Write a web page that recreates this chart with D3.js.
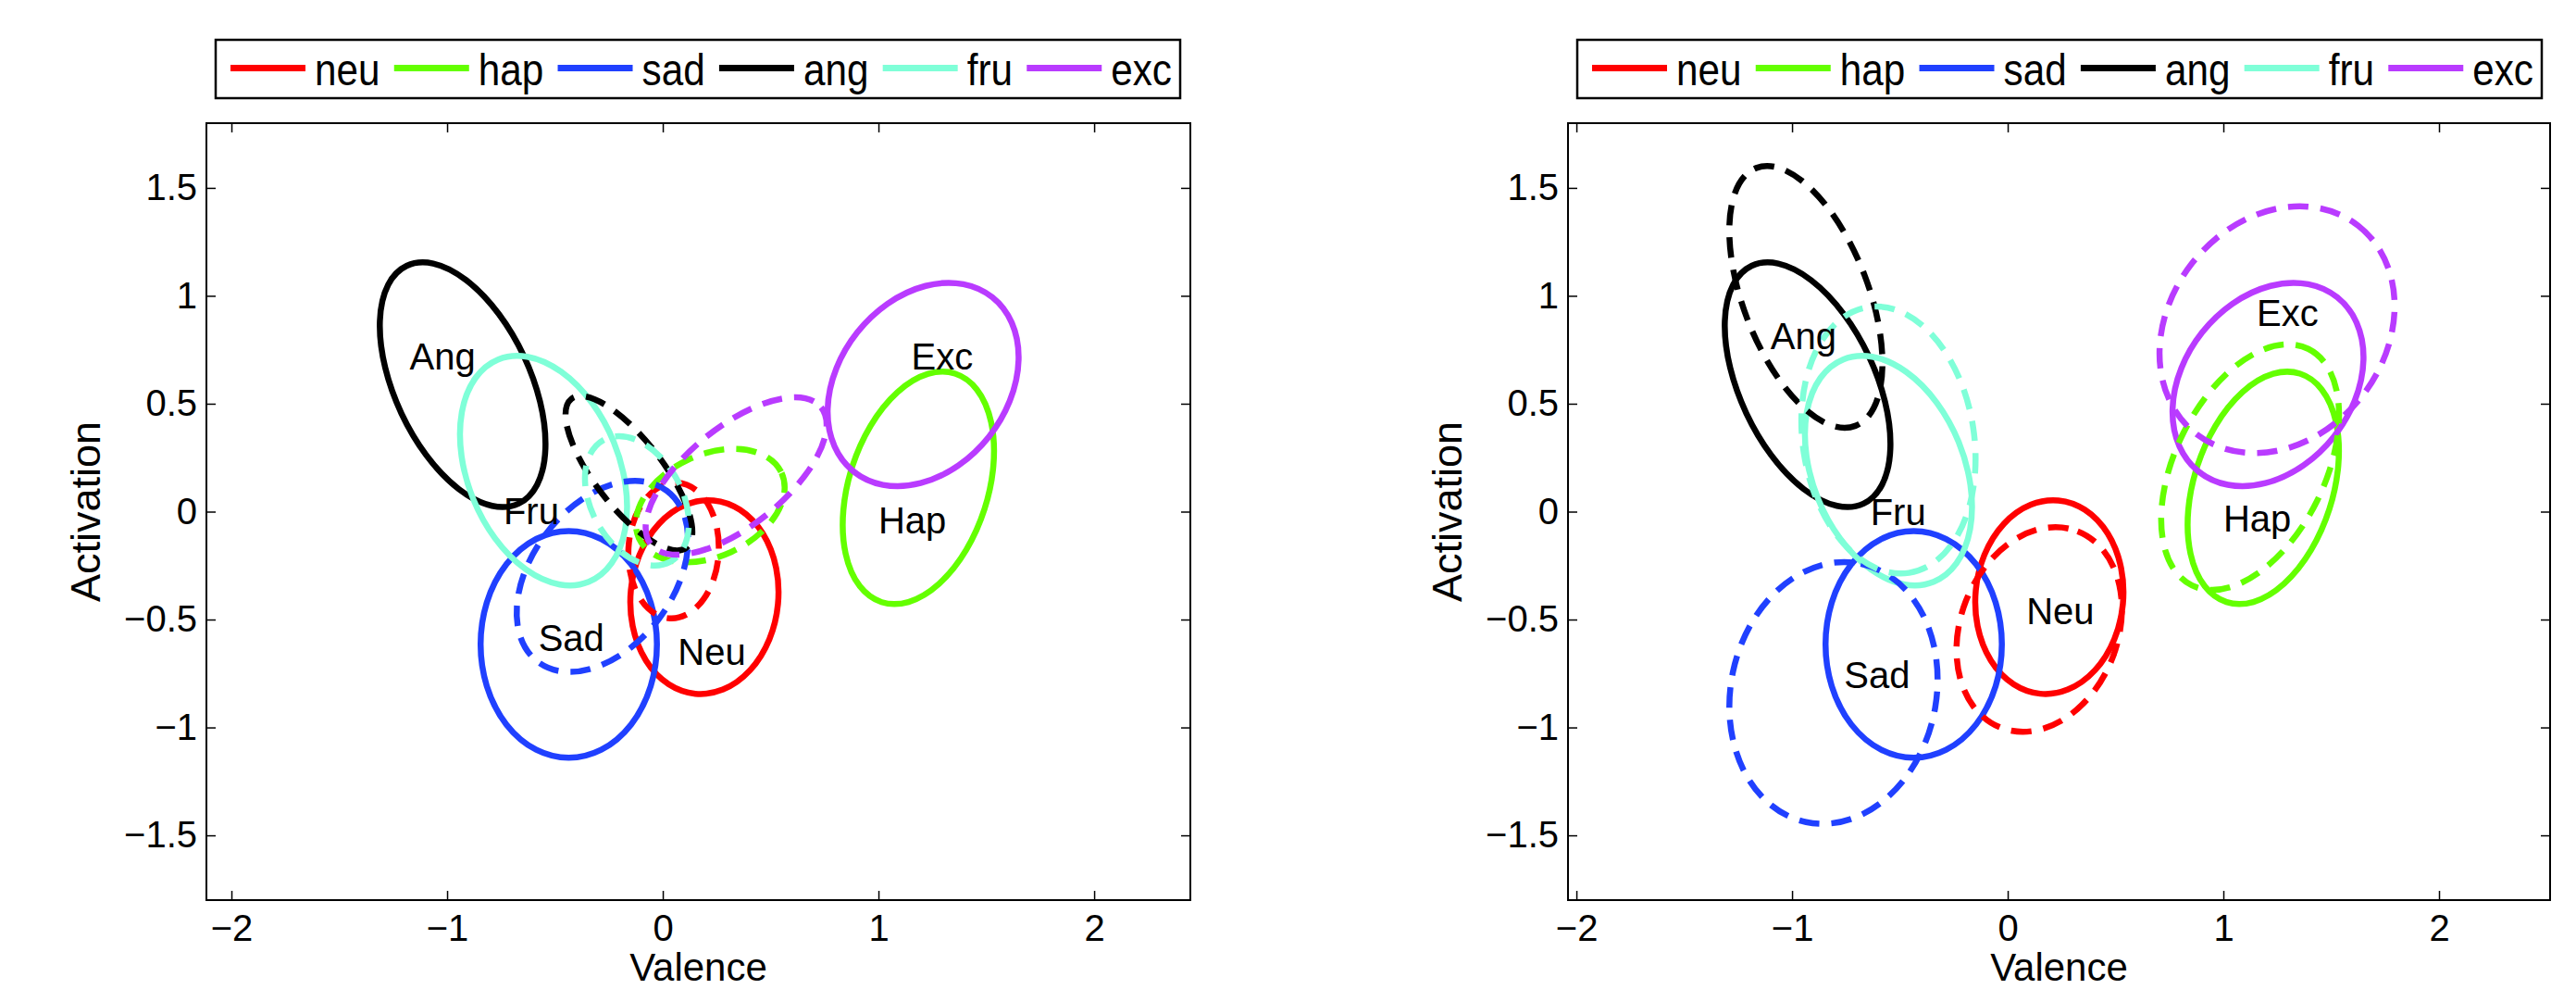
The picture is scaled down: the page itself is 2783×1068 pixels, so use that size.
<!DOCTYPE html>
<html>
<head>
<meta charset="utf-8">
<script src="https://cdn.jsdelivr.net/npm/d3@7"></script>
<style>
body { margin: 0; background: #fff; }
text { font-family: "Liberation Sans", Arial, Helvetica, sans-serif; fill: #000; }
</style>
</head>
<body>
<svg id="canvas"></svg>
<script>
// ---- data ----
let emotions = ["neu", "hap", "sad", "ang", "fru", "exc"];
let labels   = ["Neu", "Hap", "Sad", "Ang", "Fru", "Exc"];
let colours  = ["#ff0000", "#64ff00", "#2040ff", "#000000", "#7fffd8", "#b93bff"];

// ellipses as [cx, cy, sxx, sxy, syy]  (centre + spread of the contour)
let solidEll = [
  [0.193, -0.396, 0.118, 0.008, 0.2016],
  [1.185, 0.11, 0.123, 0.06, 0.29],
  [-0.436, -0.615, 0.167, 0.0, 0.276],
  [-0.928, 0.588, 0.1475, -0.105, 0.3215],
  [-0.553, 0.19, 0.150, -0.065, 0.283],
  [1.207, 0.589, 0.196, 0.056, 0.222]
];
let dashedLeft = [
  [0.05, -0.18, 0.044, 0.003, 0.099],
  [0.22, 0.028, 0.119, 0.029, 0.069],
  [-0.28, -0.30, 0.158, 0.067, 0.196],
  [-0.157, 0.178, 0.0864, -0.08, 0.128],
  [-0.12, 0.05, 0.058, -0.025, 0.09],
  [0.34, 0.165, 0.176, 0.10, 0.133]
];
let dashedRight = [
  [0.146, -0.546, 0.147, 0.036, 0.225],
  [1.124, 0.206, 0.17, 0.10, 0.324],
  [-0.808, -0.84, 0.233, 0.03, 0.368],
  [-0.936, 0.995, 0.126, -0.109, 0.368],
  [-0.553, 0.332, 0.163, -0.035, 0.383],
  [1.249, 0.843, 0.297, 0.06, 0.327]
];
let labelLeft  = [[0.227, -0.648], [1.157, -0.042], [-0.424, -0.587], [-1.021, 0.719], [-0.61, 0.004], [1.295, 0.719]];
let labelRight = [[0.244, -0.462], [1.157, -0.034], [-0.606, -0.758], [-0.947, 0.812], [-0.508, 0.0], [1.298, 0.922]];

let xTicks = [-2, -1, 0, 1, 2];
let yTicks = [-1.5, -1, -0.5, 0, 0.5, 1, 1.5];
let xLimLeft = [-2.116, 2.446], xLimRight = [-2.039, 2.515], yLim = [-1.8, 1.8];

// ---- layout ----
var width = 2783, height = 1068;
let svg = d3.select('#canvas').attr('width', width).attr('height', height);

let panels = [
  {left: 223, right: 1286, top: 133, bottom: 972, xLim: xLimLeft, dashed: dashedLeft, lab: labelLeft},
  {left: 1694, right: 2755, top: 133, bottom: 972, xLim: xLimRight, dashed: dashedRight, lab: labelRight}
];

let fmt = d3.format("");

function ellipseShape(e) {
  let [cx, cy, sxx, sxy, syy] = e;
  let m = (sxx + syy) / 2;
  let d = Math.sqrt(((sxx - syy) / 2) ** 2 + sxy * sxy);
  let theta = 0.5 * Math.atan2(2 * sxy, sxx - syy) * 180 / Math.PI;
  return {cx: cx, cy: cy, a: Math.sqrt(m + d), b: Math.sqrt(m - d), theta: theta};
}

function drawEllipses(g, x, y, list, dashed) {
  g.selectAll(null)
    .data(list.map((e, i) => ({s: ellipseShape(e), i: i})))
    .enter()
    .append('ellipse')
    .attr('cx', d => x(d.s.cx))
    .attr('cy', d => y(d.s.cy))
    .attr('rx', d => x(d.s.a) - x(0))
    .attr('ry', d => y(0) - y(d.s.b))
    .attr('transform', d => `rotate(${-d.s.theta},${x(d.s.cx)},${y(d.s.cy)})`)
    .attr('fill', 'none')
    .attr('stroke', d => colours[d.i])
    .attr('stroke-width', 6.5)
    .attr('stroke-dasharray', dashed ? '22,13' : null);
}

function styleAxis(a) {
  a.select('.domain').remove();
  a.selectAll('.tick line').attr('stroke', '#000').attr('stroke-width', 1.5);
  a.selectAll('text').style('font-size', '40px').attr('fill', '#000');
}

function drawLegend(p) {
  let boxW = 1042, boxH = 63;
  let lg = svg.append('g').attr('transform', `translate(${p.left + 10},43)`);
  lg.append('rect').attr('width', boxW).attr('height', boxH)
    .attr('fill', '#fff').attr('stroke', '#000').attr('stroke-width', 2.5);

  let texts = lg.selectAll('text.leg').data(emotions).enter().append('text')
    .attr('class', 'leg').style('font-size', '48px').text(d => d);
  let widths = [];
  texts.each(function() { widths.push(this.getComputedTextLength() * 0.88); });
  let lineLen = 81, pad = 10, startX = 16;
  let gap = (boxW - 9 - startX - emotions.length * (lineLen + pad) - d3.sum(widths)) / (emotions.length - 1);
  let pos = [], cur = startX;
  widths.forEach(w => { pos.push(cur); cur += lineLen + pad + w + gap; });

  lg.selectAll('line.leg').data(emotions).enter().append('line')
    .attr('x1', (d, i) => pos[i]).attr('x2', (d, i) => pos[i] + lineLen)
    .attr('y1', 30.5).attr('y2', 30.5)
    .attr('stroke', (d, i) => colours[i]).attr('stroke-width', 7);
  texts.attr('transform', (d, i) => `translate(${pos[i] + lineLen + pad},49) scale(0.88,1)`);
}

function drawPanel(p) {
  let x = d3.scaleLinear().domain(p.xLim).range([p.left, p.right]);
  let y = d3.scaleLinear().domain(yLim).range([p.bottom, p.top]);
  let g = svg.append('g');

  g.append('g').attr('transform', `translate(0,${p.bottom})`)
    .call(d3.axisBottom(x).tickValues(xTicks).tickSize(-10).tickSizeOuter(0).tickPadding(16).tickFormat(fmt))
    .call(styleAxis);
  g.append('g').attr('transform', `translate(0,${p.top})`)
    .call(d3.axisTop(x).tickValues(xTicks).tickSize(-10).tickSizeOuter(0).tickFormat(() => ''))
    .call(styleAxis);
  g.append('g').attr('transform', `translate(${p.left},0)`)
    .call(d3.axisLeft(y).tickValues(yTicks).tickSize(-10).tickSizeOuter(0).tickPadding(10).tickFormat(fmt))
    .call(styleAxis);
  g.append('g').attr('transform', `translate(${p.right},0)`)
    .call(d3.axisRight(y).tickValues(yTicks).tickSize(-10).tickSizeOuter(0).tickFormat(() => ''))
    .call(styleAxis);

  g.append('rect')
    .attr('x', p.left).attr('y', p.top)
    .attr('width', p.right - p.left).attr('height', p.bottom - p.top)
    .attr('fill', 'none').attr('stroke', '#000').attr('stroke-width', 2);

  drawEllipses(g, x, y, solidEll, false);
  drawEllipses(g, x, y, p.dashed, true);

  g.selectAll('text.lab').data(p.lab).enter().append('text')
    .attr('class', 'lab')
    .attr('x', d => x(d[0])).attr('y', d => y(d[1]))
    .attr('text-anchor', 'middle').attr('dominant-baseline', 'central')
    .style('font-size', '40px')
    .text((d, i) => labels[i]);

  g.append('text')
    .attr('x', (p.left + p.right) / 2).attr('y', 1059)
    .attr('text-anchor', 'middle').style('font-size', '42px')
    .text('Valence');
  g.append('text')
    .attr('transform', `translate(${p.left - 115},${(p.top + p.bottom) / 2}) rotate(-90)`)
    .attr('text-anchor', 'middle').style('font-size', '45px')
    .text('Activation');

  drawLegend(p);
}

panels.forEach(drawPanel);
</script>
</body>
</html>
